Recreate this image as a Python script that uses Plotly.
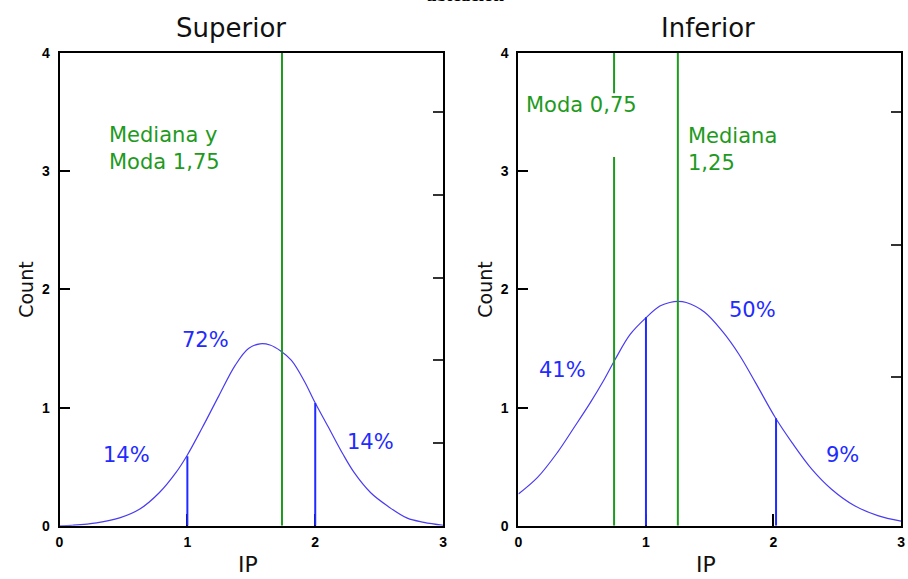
import plotly.graph_objects as go

# ---------------- data ----------------
sup_x = [0, 0.1, 0.29, 0.47, 0.625, 0.78, 0.91, 1.0, 1.116, 1.246, 1.375, 1.478, 1.568,
         1.646, 1.73, 1.814, 1.917, 1.995, 2.098, 2.215, 2.305, 2.434, 2.563, 2.72, 2.85, 3.0]
sup_y = [0.0, 0.005, 0.025, 0.067, 0.14, 0.28, 0.45, 0.6, 0.83, 1.10, 1.36, 1.50, 1.54,
         1.53, 1.48, 1.40, 1.22, 1.05, 0.845, 0.61, 0.45, 0.28, 0.17, 0.065, 0.03, 0.005]

inf_x = [0.0, 0.15, 0.305, 0.435, 0.565, 0.668, 0.759, 0.876, 1.005, 1.109, 1.186, 1.25,
         1.316, 1.458, 1.60, 1.73, 1.86, 2.015, 2.145, 2.30, 2.455, 2.636, 2.818, 3.0]
inf_y = [0.27, 0.41, 0.62, 0.83, 1.045, 1.23, 1.41, 1.62, 1.766, 1.86, 1.89, 1.90,
         1.89, 1.81, 1.645, 1.45, 1.21, 0.915, 0.705, 0.48, 0.31, 0.17, 0.087, 0.04]

sup_cut_x = [1.0, 2.0]
sup_cut_y = [0.59, 1.04]
inf_cut_x = [1.0, 2.02]
inf_cut_y = [1.766, 0.91]

sup_median = 1.74          # mediana y moda
inf_mode = 0.75
inf_median = 1.25
inf_mode_gap = [3.12, 3.66]  # gap in the mode line behind its label

sup_pct = ["14%", "72%", "14%"]
inf_pct = ["41%", "50%", "9%"]

count_ticks = [0, 1, 2, 3, 4]
ip_ticks = [0, 1, 2, 3]
sup_right_ticks = [0.7, 1.4, 2.1, 2.8, 3.5]
inf_right_ticks = [1.26, 2.38, 3.50]

titles = ["Superior", "Inferior"]

# ---------------- styles ----------------
BLUE_CURVE = "#4a3cf0"
BLUE = "#1f2bff"
GREEN = "#1e9a1e"
FONT = "Liberation Sans, Arial, sans-serif"
TFONT = "DejaVu Sans, Verdana, sans-serif"
W, H = 908, 579
KY, CY = 0.977, 290.0   # vertical compensation

def px_x(p):
    return p / W

def px_y(p):
    q = CY + (p - CY) / KY
    return 1 - q / H

fig = go.Figure()

fig.add_trace(go.Scatter(x=sup_x, y=sup_y, mode="lines", line=dict(color=BLUE_CURVE, width=1.2, shape="spline"),
                         xaxis="x", yaxis="y", showlegend=False, hoverinfo="skip"))
fig.add_trace(go.Scatter(x=inf_x, y=inf_y, mode="lines", line=dict(color=BLUE_CURVE, width=1.2, shape="spline"),
                         xaxis="x2", yaxis="y2", showlegend=False, hoverinfo="skip"))

for xs, ys, xa, ya in [(sup_cut_x, sup_cut_y, "x", "y"), (inf_cut_x, inf_cut_y, "x2", "y2")]:
    for xv, yv in zip(xs, ys):
        fig.add_trace(go.Scatter(x=[xv, xv], y=[0, yv], mode="lines", line=dict(color=BLUE, width=2),
                                 xaxis=xa, yaxis=ya, showlegend=False, hoverinfo="skip"))

fig.add_trace(go.Scatter(x=[sup_median, sup_median], y=[0, 4], mode="lines", line=dict(color=GREEN, width=2),
                         xaxis="x", yaxis="y", showlegend=False, hoverinfo="skip"))
fig.add_trace(go.Scatter(x=[inf_median, inf_median], y=[0, 4], mode="lines", line=dict(color=GREEN, width=2),
                         xaxis="x2", yaxis="y2", showlegend=False, hoverinfo="skip"))
fig.add_trace(go.Scatter(x=[inf_mode, inf_mode, None, inf_mode, inf_mode],
                         y=[0, inf_mode_gap[0], None, inf_mode_gap[1], 4], mode="lines",
                         line=dict(color=GREEN, width=2), connectgaps=False,
                         xaxis="x2", yaxis="y2", showlegend=False, hoverinfo="skip"))

fig.add_trace(go.Scatter(x=[0], y=[0], mode="markers", marker=dict(opacity=0), xaxis="x", yaxis="y3",
                         showlegend=False, hoverinfo="skip"))
fig.add_trace(go.Scatter(x=[0], y=[0], mode="markers", marker=dict(opacity=0), xaxis="x2", yaxis="y4",
                         showlegend=False, hoverinfo="skip"))

dom1 = [px_x(56), px_x(443)]
dom2 = [px_x(519), px_x(905)]
ydom = [px_y(527), px_y(52)]

tickfont = dict(family=FONT, size=14, color="black", weight="bold")
xcommon = dict(range=[0, 3], tickvals=ip_ticks, ticks="inside", ticklen=12, tickwidth=2, tickcolor="black",
               showline=True, linewidth=2, linecolor="black", mirror=True, showgrid=False, zeroline=False,
               layer="below traces", tickfont=tickfont, ticklabelstandoff=2)
ycommon = dict(range=[0, 4], tickvals=count_ticks, ticks="inside", ticklen=10, tickwidth=2, tickcolor="black",
               showline=True, linewidth=2, linecolor="black", mirror=True, showgrid=False, zeroline=False,
               layer="below traces", tickfont=tickfont, domain=ydom, ticklabelstandoff=5)
yright = dict(range=[0, 4], ticks="inside", ticklen=10, tickwidth=2, tickcolor="#333",
              showticklabels=False, showline=False, showgrid=False, zeroline=False, side="right")

fig.update_layout(
    width=W, height=H, margin=dict(l=0, r=0, t=0, b=0),
    paper_bgcolor="white", plot_bgcolor="white",
    xaxis=dict(domain=dom1, anchor="y", **xcommon),
    xaxis2=dict(domain=dom2, anchor="y2", **xcommon),
    yaxis=dict(anchor="x", **ycommon),
    yaxis2=dict(anchor="x2", **ycommon),
    yaxis3=dict(overlaying="y", anchor="x", tickvals=sup_right_ticks, **yright),
    yaxis4=dict(overlaying="y2", anchor="x2", tickvals=inf_right_ticks, **yright),
)

ann = []
ann.append(dict(text="<b>ubicación</b>", x=px_x(466), y=px_y(-7), xref="paper", yref="paper",
                showarrow=False, font=dict(family="Liberation Serif, serif", size=19, color="black"),
                xanchor="center", yanchor="middle"))
for t, cx in zip(titles, [229, 710]):
    ann.append(dict(text=t, x=px_x(cx), y=px_y(27), xref="paper", yref="paper", showarrow=False,
                    font=dict(family=TFONT, size=26, color="#111"), xanchor="center", yanchor="middle"))
for cx in [22, 485]:
    ann.append(dict(text="Count", x=px_x(cx), y=px_y(290), xref="paper", yref="paper", showarrow=False,
                    textangle=-90, font=dict(family=TFONT, size=19, color="#111"), xanchor="center", yanchor="middle"))
for cx in [246, 708]:
    ann.append(dict(text="IP", x=px_x(cx), y=px_y(566), xref="paper", yref="paper", showarrow=False,
                    font=dict(family=TFONT, size=22, color="#111"), xanchor="center", yanchor="middle"))

gfont = dict(family=TFONT, size=21, color=GREEN)
ann.append(dict(text="Mediana y<br>Moda 1,75", x=px_x(104), y=px_y(148), xref="paper", yref="paper",
                showarrow=False, align="left", font=gfont, xanchor="left", yanchor="middle"))
ann.append(dict(text="Moda 0,75", x=px_x(525), y=px_y(104), xref="paper", yref="paper",
                showarrow=False, align="left", font=gfont, xanchor="left", yanchor="middle"))
ann.append(dict(text="Mediana<br>1,25", x=px_x(688), y=px_y(149), xref="paper", yref="paper",
                showarrow=False, align="left", font=gfont, xanchor="left", yanchor="middle"))

pfont = dict(family=TFONT, size=21, color=BLUE)
for t, (cx, cy) in zip(sup_pct, [(124, 456), (203, 340), (370, 443)]):
    ann.append(dict(text=t, x=px_x(cx), y=px_y(cy), xref="paper", yref="paper", showarrow=False,
                    font=pfont, xanchor="center", yanchor="middle"))
for t, (cx, cy) in zip(inf_pct, [(563, 370), (755, 310), (846, 456)]):
    ann.append(dict(text=t, x=px_x(cx), y=px_y(cy), xref="paper", yref="paper", showarrow=False,
                    font=pfont, xanchor="center", yanchor="middle"))

fig.update_layout(annotations=ann)
fig.write_html("out.html")
